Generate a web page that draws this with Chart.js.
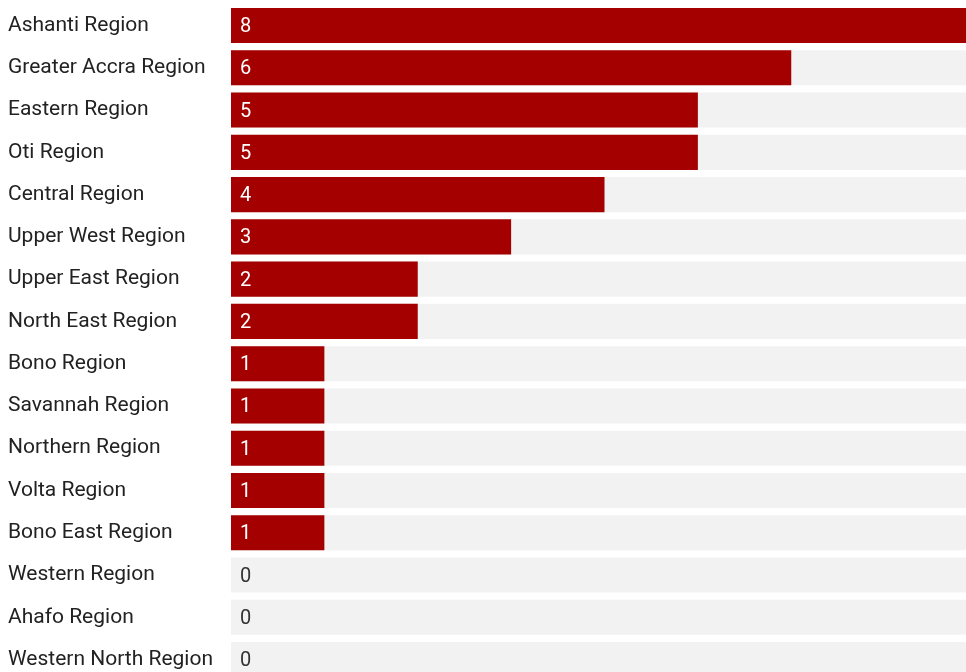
<!DOCTYPE html>
<html>
<head>
<meta charset="utf-8">
<script src="https://cdn.jsdelivr.net/npm/chart.js@4/dist/chart.umd.min.js"></script>
<style>
    html, body { margin: 0; padding: 0; background: #fff; overflow: hidden; }
    #wrap { position: relative; width: 978px; height: 685px; }
</style>
</head>
<body>
<div id="wrap"><canvas id="regionsChart"></canvas></div>
<script>
const regions = [
    'Ashanti Region', 'Greater Accra Region', 'Eastern Region', 'Oti Region',
    'Central Region', 'Upper West Region', 'Upper East Region', 'North East Region',
    'Bono Region', 'Savannah Region', 'Northern Region', 'Volta Region',
    'Bono East Region', 'Western Region', 'Ahafo Region', 'Western North Region'
];
const counts = [8, 6, 5, 5, 4, 3, 2, 2, 1, 1, 1, 1, 1, 0, 0, 0];
const maxCount = 8;
const backdrop = regions.map(() => maxCount);

// Value labels drawn inside each bar
const valueLabels = {
    id: 'valueLabels',
    afterDatasetsDraw(chart) {
        const ctx = chart.ctx;
        const meta = chart.getDatasetMeta(0);
        ctx.save();
        ctx.font = '20px Roboto';
        ctx.textBaseline = 'middle';
        ctx.textAlign = 'left';
        meta.data.forEach((bar, i) => {
            const v = counts[i];
            ctx.fillStyle = v > 0 ? '#ffffff' : '#333333';
            ctx.fillText(String(v), bar.base + 9, bar.y + 1.5);
        });
        ctx.restore();
    }
};

new Chart(document.getElementById('regionsChart'), {
    type: 'bar',
    data: {
        labels: regions,
        datasets: [
            {
                data: counts,
                backgroundColor: '#a50000',
                grouped: false,
                barPercentage: 0.83,
                categoryPercentage: 1
            },
            {
                data: backdrop,
                backgroundColor: '#f2f2f2',
                grouped: false,
                barPercentage: 0.83,
                categoryPercentage: 1
            }
        ]
    },
    options: {
        indexAxis: 'y',
        responsive: true,
        maintainAspectRatio: false,
        animation: false,
        layout: { padding: { left: 8, top: 4.4, right: 0, bottom: 4.3 } },
        plugins: {
            legend: { display: false },
            tooltip: { enabled: false }
        },
        scales: {
            x: {
                display: false,
                min: 0,
                max: maxCount
            },
            y: {
                afterFit(axis) {
                    axis.width = 223;
                    axis.paddingTop = 0;
                    axis.paddingBottom = 0;
                },
                grid: { display: false },
                border: { display: false },
                ticks: {
                    crossAlign: 'far',
                    color: '#222222',
                    font: { family: 'Roboto', size: 21 }
                }
            }
        }
    },
    plugins: [valueLabels]
});
</script>
</body>
</html>
